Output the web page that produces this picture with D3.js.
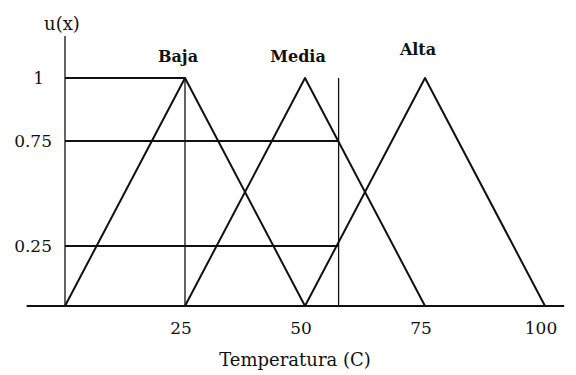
<!DOCTYPE html>
<html>
<head>
<meta charset="utf-8">
<script src="https://cdn.jsdelivr.net/npm/d3@7"></script>
<style>
  html, body { margin: 0; padding: 0; background: #fff; }
  svg text { font-family: "DejaVu Serif", serif; fill: #111; }
</style>
</head>
<body>
<div id="chart"></div>
<script>
// Fuzzy sets for temperature
const setNames = ['Baja', 'Media', 'Alta'];
const setStart = [0, 25, 50];
const setPeak = [25, 50, 75];
const setEnd = [50, 75, 100];
const xTicks = [25, 50, 75, 100];
const yTicks = [1, 0.75, 0.25];
const yTickLabels = ['1', '0.75', '0.25'];
// reading line and guide levels
const cutX = 57;
const guideLevels = [1, 0.75, 0.25];
const guideEnds = [25, 57, 57];

const width = 576, height = 375;
const svg = d3.select('#chart').append('svg')
  .attr('width', width).attr('height', height);

const x = d3.scaleLinear().domain([0, 100]).range([65, 545]);
// hand drawn axis: tick levels are not evenly spaced
const y = d3.scaleLinear().domain([0, 0.25, 0.75, 1, 1.2]).range([306, 246, 141, 78, 36]);

const ink = '#111';

// axes lines
svg.append('line')
  .attr('x1', x(0)).attr('x2', x(0))
  .attr('y1', y(1.2)).attr('y2', y(0))
  .attr('stroke', ink).attr('stroke-width', 1.3);
svg.append('line')
  .attr('x1', x(-8)).attr('x2', x(104))
  .attr('y1', y(0)).attr('y2', y(0))
  .attr('stroke', ink).attr('stroke-width', 2);

// guide lines
svg.append('g').selectAll('line')
  .data(guideLevels)
  .join('line')
  .attr('x1', x(0))
  .attr('x2', (d, i) => x(guideEnds[i]))
  .attr('y1', d => y(d)).attr('y2', d => y(d))
  .attr('stroke', ink).attr('stroke-width', 1.8);

svg.append('g').selectAll('line')
  .data([25, cutX])
  .join('line')
  .attr('x1', d => x(d)).attr('x2', d => x(d))
  .attr('y1', y(1)).attr('y2', y(0))
  .attr('stroke', ink).attr('stroke-width', 1.3);

// triangles
const tri = d3.line().x(d => x(d[0])).y(d => y(d[1]));
svg.append('g').selectAll('path')
  .data(setNames.map((n, i) => [[setStart[i], 0], [setPeak[i], 1], [setEnd[i], 0]]))
  .join('path')
  .attr('d', tri)
  .attr('fill', 'none')
  .attr('stroke', ink)
  .attr('stroke-width', 2)
  .attr('stroke-linejoin', 'round');

// set labels
svg.append('g').selectAll('text')
  .data(setNames)
  .join('text')
  .attr('x', (d, i) => x(setPeak[i]) - 7)
  .attr('y', (d, i) => i === 2 ? 55 : 62)
  .attr('text-anchor', 'middle')
  .attr('font-size', 16)
  .attr('font-weight', 'bold')
  .text(d => d);

// x tick labels
svg.append('g').selectAll('text')
  .data(xTicks)
  .join('text')
  .attr('x', d => x(d) - 4)
  .attr('y', 334)
  .attr('text-anchor', 'middle')
  .attr('font-size', 17)
  .text(d => d);

// y tick labels
svg.append('g').selectAll('text')
  .data(yTicks)
  .join('text')
  .attr('x', d => d === 1 ? 44 : 52)
  .attr('y', d => y(d))
  .attr('dy', '0.35em')
  .attr('text-anchor', 'end')
  .attr('font-size', 17)
  .text((d, i) => yTickLabels[i]);

// axis titles
svg.append('text')
  .attr('x', 62).attr('y', 30)
  .attr('text-anchor', 'middle')
  .attr('font-size', 18)
  .text('u(x)');

svg.append('text')
  .attr('x', 295).attr('y', 366)
  .attr('text-anchor', 'middle')
  .attr('font-size', 18)
  .text('Temperatura (C)');
</script>
</body>
</html>
